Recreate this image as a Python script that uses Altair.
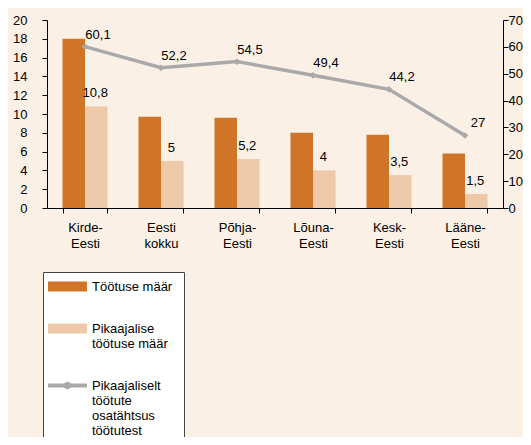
import altair as alt
import pandas as pd

regions = ["Kirde-|Eesti", "Eesti|kokku", "Põhja-|Eesti", "Lõuna-|Eesti", "Kesk-|Eesti", "Lääne-|Eesti"]
unemployment = [18.0, 9.7, 9.6, 8.0, 7.8, 5.8]
long_term = [10.8, 5.0, 5.2, 4.0, 3.5, 1.5]
long_term_share = [60.1, 52.2, 54.5, 49.4, 44.2, 27.0]
series = ["Töötuse määr", "Pikaajalise|töötuse määr", "Pikaajaliselt|töötute|osatähtsus|töötutest"]
colors = ["#D07428", "#EDC9A9", "#A9A9A9"]
symbol_paths = [
    "M-3,-0.77H3V0.77H-3Z",
    "M-3,-0.77H3V0.77H-3Z",
    "M-3,-0.3H-0.6L0,-0.6L0.6,-0.3H3V0.3H0.6L0,0.6L-0.6,0.3H-3Z",
]


def fmt(v):
    return f"{v:g}".replace(".", ",")


bar_rows = []
for r, a, b in zip(regions, unemployment, long_term):
    bar_rows.append({"region": r, "series": series[0], "value": a, "label": fmt(a)})
    bar_rows.append({"region": r, "series": series[1], "value": b, "label": fmt(b)})
bars_df = pd.DataFrame(bar_rows)
line_df = pd.DataFrame({"region": regions, "share": long_term_share,
                        "label": [fmt(v) for v in long_term_share]})
legend_df = pd.DataFrame({"series": series})

FONT = "Liberation Sans"

x_enc = alt.X(
    "region:N", sort=regions,
    scale=alt.Scale(paddingInner=0.408, paddingOuter=0.204),
    axis=alt.Axis(title=None, labelAngle=0, labelExpr="split(datum.label, '|')",
                  tickBand="extent", tickSize=5, labelPadding=8, labelLineHeight=16,
                  labelFontSize=13, domainColor="black", tickColor="black",
                  labelColor="black", labelFont=FONT),
)
xo_enc = alt.XOffset("series:N", sort=series[:2],
                     scale=alt.Scale(domain=series[:2], paddingInner=0, paddingOuter=0))
y_left = alt.Y("value:Q", scale=alt.Scale(domain=[0, 20], nice=False),
               axis=alt.Axis(title=None, values=list(range(0, 21, 2)), tickSize=5,
                             labelPadding=15, grid=False, labelFontSize=13,
                             domainColor="black", tickColor="black", labelColor="black",
                             labelFont=FONT))
y_right = alt.Y("share:Q", scale=alt.Scale(domain=[0, 70], nice=False),
                axis=alt.Axis(title=None, orient="right", values=list(range(0, 71, 10)),
                              tickSize=5, labelPadding=0, grid=False, labelFontSize=13,
                              domainColor="black", tickColor="black", labelColor="black",
                              labelFont=FONT))

bars_dark = alt.Chart(bars_df).transform_filter(
    alt.datum.series == series[0]
).mark_bar(color=colors[0]).encode(x=x_enc, xOffset=xo_enc, y=y_left)
bars_light = alt.Chart(bars_df).transform_filter(
    alt.datum.series == series[1]
).mark_bar(color=colors[1]).encode(x=x_enc, xOffset=xo_enc, y=y_left)
bar_text = alt.Chart(bars_df).transform_filter(
    alt.datum.series == series[1]
).mark_text(baseline="bottom", dy=-6, dx=-1, fontSize=13, font=FONT, color="black").encode(
    x=x_enc, xOffset=xo_enc, y=y_left, text="label:N",
)
left = alt.layer(bars_dark, bars_light, bar_text)

line = alt.Chart(line_df).mark_line(
    color=colors[2], strokeWidth=3.5,
    point=alt.OverlayMarkDef(shape="diamond", size=45, color=colors[2], filled=True),
).encode(x=x_enc, y=y_right)
line_text = alt.Chart(line_df).mark_text(
    align="center", baseline="middle", dx=13, dy=-12, fontSize=13, font=FONT, color="black"
).encode(x=x_enc, y=y_right, text="label:N")
right = alt.layer(line, line_text)

legend_def = alt.Legend(
    title="\u00a0" * 7, titleOrient="right", titleFontSize=13, titlePadding=4,
    orient="none", legendX=-4, legendY=252, direction="vertical",
    fillColor="white", strokeColor="#444444", padding=8, rowPadding=28,
    symbolSize=169, symbolOpacity=1, symbolStrokeWidth=0, symbolOffset=10,
    labelFont=FONT, labelFontSize=13, labelColor="black", labelLimit=200,
    labelOffset=18, labelExpr="split(datum.label, '|')",
)
legend_layer = alt.Chart(legend_df).mark_point(filled=True, opacity=0).encode(
    color=alt.Color("series:N", scale=alt.Scale(domain=series, range=colors),
                    legend=legend_def),
    shape=alt.Shape("series:N", scale=alt.Scale(domain=series, range=symbol_paths),
                    legend=legend_def),
)

chart = alt.layer(left, right, legend_layer).resolve_scale(y="independent").properties(
    width=456, height=188,
    autosize=alt.AutoSizeParams(type="none"),
    padding={"left": 39, "top": 12, "right": 20, "bottom": 229},
    background="#FAF0E6",
).configure_view(stroke=None)

chart.save("out.html", embed_options={"renderer": "svg", "actions": False})
